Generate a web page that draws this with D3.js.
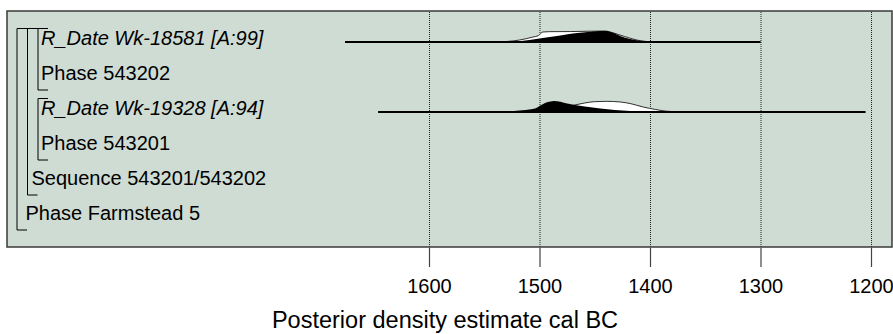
<!DOCTYPE html>
<html><head><meta charset="utf-8">
<script src="https://cdn.jsdelivr.net/npm/d3@7"></script>
<style>
html,body{margin:0;padding:0;background:#fff;}
svg{display:block;font-family:"Liberation Sans",Arial,sans-serif;}
</style></head>
<body><svg id="c" width="893" height="334"></svg>
<script>
// ---------- data ----------
const rowLabels = ["R_Date Wk-18581 [A:99]", "Phase 543202", "R_Date Wk-19328 [A:94]", "Phase 543201", "Sequence 543201/543202", "Phase Farmstead 5"];
const rowItalic = [true, false, true, false, false, false];
const rowLevel = [3, 2, 3, 2, 1, 0];            // nesting depth of each label
const tickYears = [1600, 1500, 1400, 1300, 1200];
const axisTitle = "Posterior density estimate cal BC";

// brackets: [level, firstRow, lastRow]
const groups = [[0, 0, 5], [1, 0, 4], [2, 0, 1], [2, 2, 3]];

// R_Date Wk-18581
const rangeA = [1676, 1300];
const likeA = [[1676,0],[1600,0.02],[1560,0.01],[1540,0],[1529,0.05],[1518,0.18],[1506,0.45],[1501,0.58],[1497,0.91],[1491,0.94],[1472,0.95],[1454,0.98],[1441,1.0],[1434,0.85],[1423,0.5],[1409,0.12],[1395,0],[1300,0]];
const postA = [[1676,0],[1600,0.03],[1590,0.01],[1540,0],[1531,0],[1524,0.03],[1509,0.18],[1497,0.36],[1481,0.6],[1468,0.8],[1454,0.94],[1445,0.99],[1440,0.99],[1434,0.86],[1427,0.55],[1418,0.27],[1409,0.12],[1400,0.03],[1391,0],[1300,0]];
// R_Date Wk-19328
const rangeB = [1646, 1205];
const likeB = [[1646,0],[1530,0],[1518,0.05],[1500,0.18],[1481,0.36],[1472,0.55],[1468,0.64],[1459,0.82],[1450,0.94],[1439,0.97],[1427,0.91],[1418,0.77],[1406,0.45],[1395,0.23],[1385,0.07],[1373,0.02],[1355,0],[1336,0],[1330,0.04],[1324,0],[1205,0]];
const postB = [[1646,0],[1540,0],[1531,0.03],[1518,0.14],[1504,0.32],[1500,0.55],[1495,0.82],[1490,0.95],[1487,1.0],[1481,0.94],[1475,0.77],[1468,0.64],[1459,0.5],[1445,0.32],[1432,0.18],[1418,0.09],[1404,0.03],[1391,0],[1205,0]];

const dists = [
  {row: 0, range: rangeA, like: likeA, post: postA},
  {row: 2, range: rangeB, like: likeB, post: postB}
];

// ---------- layout ----------
const svg = d3.select("#c");
const panel = {x0: 7, y0: 11, x1: 892, y1: 247};
const rowTop = i => 28.5 + 35 * i;
const levelX = [17, 27.5, 38];
const labelX = [25.5, 31.5, 41, 41];
const x = d3.scaleLinear().domain([1600, 1200]).range([429, 871]);
const h = d3.scaleLinear().domain([0, 1]).range([0, 11]);

svg.append("rect")
  .attr("x", panel.x0).attr("y", panel.y0)
  .attr("width", panel.x1 - panel.x0).attr("height", panel.y1 - panel.y0)
  .attr("fill", "#cfdcd3").attr("stroke", "#3a3a3a").attr("stroke-width", 1.5);

// grid lines
const grid = svg.append("g").attr("transform", `translate(0,${panel.y1})`)
  .call(d3.axisBottom(x).tickValues(tickYears).tickSize(-(panel.y1 - panel.y0 - 1)).tickFormat(""));
grid.select(".domain").remove();
grid.selectAll("line").attr("stroke", "#222").attr("stroke-dasharray", "1,1").attr("stroke-width", 1);

// axis
const ax = svg.append("g").attr("transform", `translate(0,${panel.y1 + 1})`)
  .call(d3.axisBottom(x).tickValues(tickYears).tickSize(19).tickSizeOuter(0).tickPadding(12).tickFormat(d3.format("d")));
ax.select(".domain").remove();
ax.selectAll("line").attr("stroke", "#444").attr("stroke-width", 1.2);
ax.selectAll("text").attr("font-size", 20).attr("fill", "#000")
  .attr("font-family", "'Liberation Sans',Arial,sans-serif");

svg.append("text").attr("x", 445).attr("y", 328).attr("text-anchor", "middle")
  .attr("font-size", 23.5).attr("fill", "#000").text(axisTitle);

// distributions
dists.forEach(d => {
  const base = rowTop(d.row) + 13.5;
  const area = d3.area().x(p => x(p[0])).y0(base).y1(p => base - h(p[1])).curve(d3.curveMonotoneX);
  const line = d3.line().x(p => x(p[0])).y(p => base - h(p[1])).curve(d3.curveMonotoneX);
  svg.append("path").attr("d", area(d.like)).attr("fill", "#fff");
  svg.append("path").attr("d", line(d.like)).attr("fill", "none").attr("stroke", "#000").attr("stroke-width", 0.8);
  svg.append("path").attr("d", area(d.post)).attr("fill", "#000");
  svg.append("line").attr("x1", x(d.range[0])).attr("x2", x(d.range[1]))
    .attr("y1", base).attr("y2", base).attr("stroke", "#000").attr("stroke-width", 2);
});

// brackets
groups.forEach(([lvl, r0, r1]) => {
  const bx = levelX[lvl];
  const top = rowTop(r0), bot = rowTop(r1) + 26.5;
  svg.append("path")
    .attr("d", `M48,${top}H${bx}V${bot}H${bx + 10}`)
    .attr("fill", "none").attr("stroke", "#000").attr("stroke-width", 1);
});

// labels
rowLabels.forEach((t, i) => {
  svg.append("text")
    .attr("x", labelX[rowLevel[i]])
    .attr("y", rowTop(i) + 16.5)
    .attr("font-size", 20)
    .attr("font-style", rowItalic[i] ? "italic" : "normal")
    .attr("fill", "#000")
    .text(t);
});
</script>
</body></html>
